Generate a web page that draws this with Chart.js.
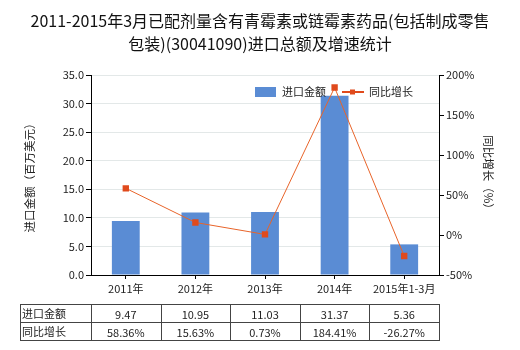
<!DOCTYPE html>
<html lang="zh">
<head>
<meta charset="UTF-8">
<title>进口总额及增速统计</title>
<script src="https://cdn.jsdelivr.net/npm/chart.js"></script>
<style>
  body { margin: 0; background: #fff; }
  #box { width: 520px; height: 350px; }
</style>
</head>
<body>
<div id="box"><canvas id="myChart" width="520" height="350"></canvas></div>
<script>
const titleLines = ['2011-2015年3月已配剂量含有青霉素或链霉素药品(包括制成零售', '包装)(30041090)进口总额及增速统计'];
const categories = ['2011年', '2012年', '2013年', '2014年', '2015年1-3月'];
const importValues = [9.47, 10.95, 11.03, 31.37, 5.36];
const growthRates = [58.36, 15.63, 0.73, 184.41, -26.27];
const importLabels = ['9.47', '10.95', '11.03', '31.37', '5.36'];
const growthLabels = ['58.36%', '15.63%', '0.73%', '184.41%', '-26.27%'];
const seriesNames = ['进口金额', '同比增长'];

const FONT = '"Noto Sans CJK SC", "Noto Sans", sans-serif';
const BAR_COLOR = '#5A8CD4';
const LINE_COLOR = '#E8642A';
const POINT_COLOR = '#E04A1C';

// title, legend and data table drawn by hand
const extras = {
  id: 'extras',
  afterDraw(chart) {
    const ctx = chart.ctx;
    const x = chart.scales.x;
    ctx.save();
    ctx.fillStyle = '#111';
    ctx.textAlign = 'center';
    ctx.textBaseline = 'middle';
    ctx.font = '16px ' + FONT;
    ctx.fillText(titleLines[0], 260, 21);
    ctx.fillText(titleLines[1], 260, 44);

    // legend
    ctx.font = '11px ' + FONT;
    ctx.textAlign = 'left';
    ctx.fillStyle = BAR_COLOR;
    ctx.fillRect(255, 87, 21, 10);
    ctx.fillStyle = '#222';
    ctx.fillText(seriesNames[0], 282, 92);
    ctx.strokeStyle = POINT_COLOR;
    ctx.lineWidth = 2;
    ctx.beginPath();
    ctx.moveTo(342, 92);
    ctx.lineTo(364, 92);
    ctx.stroke();
    ctx.fillStyle = POINT_COLOR;
    ctx.fillRect(350, 89.5, 5, 5);
    ctx.fillStyle = '#222';
    ctx.fillText(seriesNames[1], 369, 92);

    // table
    const top = 304, mid = 322, bot = 340, left = 20;
    const cw = (x.right - x.left) / categories.length;
    ctx.strokeStyle = '#444';
    ctx.lineWidth = 1;
    ctx.beginPath();
    [top, mid, bot].forEach(y => { ctx.moveTo(left, y + 0.5); ctx.lineTo(x.right, y + 0.5); });
    ctx.moveTo(left + 0.5, top); ctx.lineTo(left + 0.5, bot + 1);
    for (let i = 0; i <= categories.length; i++) {
      const xx = Math.round(x.left + i * cw) + 0.5;
      ctx.moveTo(xx, top); ctx.lineTo(xx, bot + 1);
    }
    ctx.stroke();
    ctx.fillStyle = '#222';
    ctx.textAlign = 'left';
    ctx.fillText(seriesNames[0], left + 2, (top + mid) / 2 + 1);
    ctx.fillText(seriesNames[1], left + 2, (mid + bot) / 2 + 1);
    ctx.textAlign = 'center';
    categories.forEach((c, i) => {
      const cx = x.getPixelForValue(i);
      ctx.fillText(importLabels[i], cx, (top + mid) / 2 + 2);
      ctx.fillText(growthLabels[i], cx, (mid + bot) / 2 + 2);
    });
    ctx.restore();
  }
};

const ctx = document.getElementById('myChart').getContext('2d');
new Chart(ctx, {
  type: 'bar',
  data: {
    labels: categories,
    datasets: [{
      type: 'line',
      label: seriesNames[1],
      data: growthRates,
      yAxisID: 'y1',
      borderColor: LINE_COLOR,
      borderWidth: 1,
      pointStyle: 'rect',
      pointRadius: 4.5,
      pointBackgroundColor: POINT_COLOR,
      pointBorderColor: POINT_COLOR,
      pointBorderWidth: 0,
      tension: 0,
      order: 0
    }, {
      label: seriesNames[0],
      data: importValues,
      yAxisID: 'y',
      backgroundColor: BAR_COLOR,
      categoryPercentage: 1,
      barPercentage: 0.4,
      order: 1
    }]
  },
  options: {
    responsive: false,
    animation: false,
    layout: { padding: { top: 75, bottom: 50, left: 0, right: 0 } },
    plugins: { legend: { display: false }, title: { display: false }, tooltip: { enabled: false } },
    scales: {
      x: {
        grid: { drawOnChartArea: false, offset: false, tickLength: 4, tickColor: '#000' },
        border: { color: '#000' },
        ticks: { color: '#222', font: { family: FONT, size: 11 }, padding: 3, maxRotation: 0, autoSkip: false },
        afterFit(s) { s.height = 25; }
      },
      y: {
        position: 'left',
        min: 0, max: 35,
        grid: { color: '#e3e8e8', tickLength: 5, tickColor: '#000' },
        border: { color: '#000' },
        ticks: { stepSize: 5, color: '#222', padding: 2, font: { family: FONT, size: 11 }, callback: v => v.toFixed(1) },
        title: { display: true, text: '进口金额（百万美元）', color: '#222', font: { family: FONT, size: 11.5 }, padding: { top: 23, bottom: 0 } },
        afterFit(s) { s.width = 91; }
      },
      y1: {
        position: 'right',
        min: -50, max: 200,
        grid: { drawOnChartArea: false, tickLength: 5, tickColor: '#000' },
        border: { color: '#000' },
        ticks: { stepSize: 50, color: '#222', padding: 2, font: { family: FONT, size: 11 }, callback: v => v + '%' },
        title: { display: true, text: '同比增长（%）', color: '#222', font: { family: FONT, size: 11.5 }, padding: { top: 25, bottom: 0 } },
        afterFit(s) { s.width = 81; }
      }
    }
  },
  plugins: [extras]
});
</script>
</body>
</html>
